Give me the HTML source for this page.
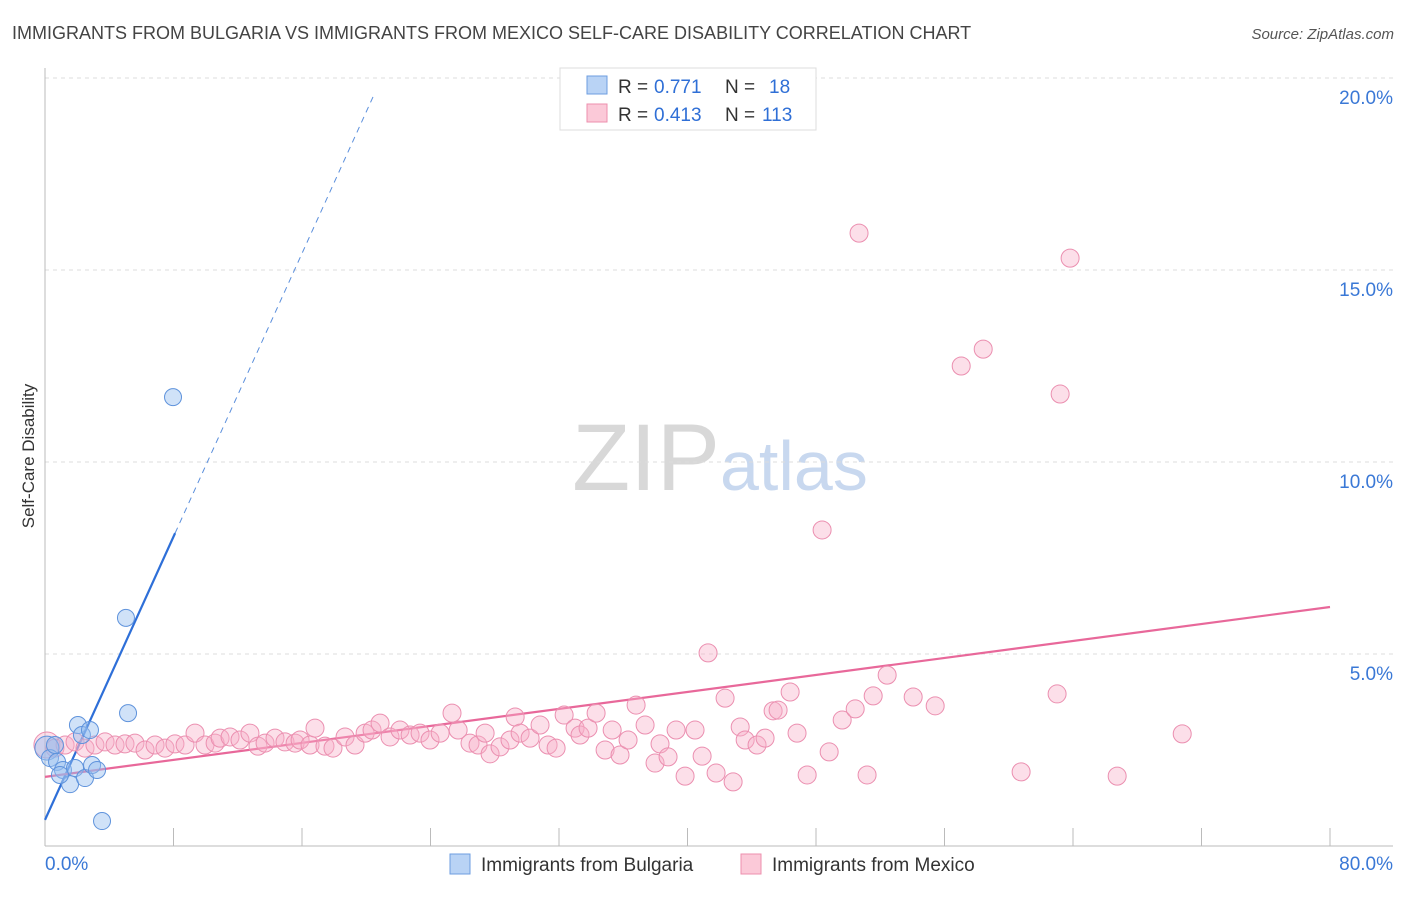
<!DOCTYPE html>
<html><head><meta charset="utf-8"><style>
body{margin:0;background:#fff;font-family:"Liberation Sans",sans-serif;}
svg text{font-family:"Liberation Sans",sans-serif;}
</style></head><body>
<svg id="chart" width="1406" height="892" viewBox="0 0 1406 892" xmlns="http://www.w3.org/2000/svg">
<text x="12" y="39" font-size="18" fill="#444">IMMIGRANTS FROM BULGARIA VS IMMIGRANTS FROM MEXICO SELF-CARE DISABILITY CORRELATION CHART</text>
<text x="1394" y="39" font-size="15" fill="#555" text-anchor="end" font-style="italic">Source: ZipAtlas.com</text>
<text x="720" y="490" font-size="95" text-anchor="middle" fill="#ddd" font-family="Liberation Serif"><tspan fill="#d8d8d8">ZIP</tspan><tspan fill="#c8d8ef" font-family="Liberation Sans" font-size="70">atlas</tspan></text>
<text transform="translate(34,456) rotate(-90)" font-size="17" fill="#333" text-anchor="middle">Self-Care Disability</text>
<g id="grid"></g><g id="axes"></g><g id="lines"></g><g id="pts"></g>
<g>
<rect x="560" y="68" width="256" height="62" fill="#fff" stroke="#ddd"/>
<rect x="587" y="76" width="20" height="18" fill="#b9d3f5" stroke="#6d9ee0"/>
<text x="618" y="93" font-size="19" fill="#333">R =</text>
<text x="654" y="93" font-size="19" fill="#2f6fd6">0.771</text>
<text x="725" y="93" font-size="19" fill="#333">N =</text>
<text x="769" y="93" font-size="19" fill="#2f6fd6">18</text>
<rect x="587" y="104" width="20" height="18" fill="#fbc9d8" stroke="#ec8fae"/>
<text x="618" y="121" font-size="19" fill="#333">R =</text>
<text x="654" y="121" font-size="19" fill="#2f6fd6">0.413</text>
<text x="725" y="121" font-size="19" fill="#333">N =</text>
<text x="762" y="121" font-size="19" fill="#2f6fd6">113</text>
</g>
<g>
<rect x="450" y="854" width="20" height="20" fill="#b9d3f5" stroke="#6d9ee0"/>
<text x="481" y="871" font-size="19" fill="#333">Immigrants from Bulgaria</text>
<rect x="741" y="854" width="20" height="20" fill="#fbc9d8" stroke="#ec8fae"/>
<text x="772" y="871" font-size="19" fill="#333">Immigrants from Mexico</text>
</g>
</svg>
<script>
const yTicks=[5,10,15,20];
const yTickLabels=["5.0%","10.0%","15.0%","20.0%"];
const xTicks=[8,16,24,32,40,48,56,64,72,80];
const xEndLabels=["0.0%","80.0%"];
const bulgariaX=[0.12,0.31,0.75,1.12,1.56,1.87,2.05,2.30,2.49,2.80,2.93,3.24,3.55,5.17,5.04,7.97,0.93,0.62];
const bulgariaY=[2.55,2.29,2.19,1.98,1.61,2.03,3.15,2.89,1.77,3.02,2.11,1.98,0.65,3.46,5.94,11.69,1.85,2.63];
const mexicoX=[0.12,0.62,1.25,1.87,2.49,3.11,3.74,4.36,4.98,5.60,6.23,6.85,7.47,8.09,8.72,9.34,9.96,10.59,10.90,11.52,12.14,12.76,13.26,13.70,14.32,14.94,15.57,15.88,16.50,16.81,17.43,17.93,18.68,19.30,19.93,20.36,20.86,21.48,22.10,22.73,23.35,23.97,24.60,25.34,25.72,26.46,26.96,27.40,27.71,28.33,28.95,29.27,29.58,30.20,30.82,31.32,31.82,32.32,33.00,33.31,33.81,34.31,34.87,35.31,35.80,36.30,36.80,37.36,37.98,38.29,38.79,39.29,39.85,40.47,40.91,41.28,41.78,42.34,42.84,43.28,43.59,44.33,44.83,45.33,45.64,46.39,46.82,47.45,48.38,48.82,49.63,50.44,50.68,51.18,51.56,52.43,54.05,55.42,57.04,58.41,60.77,63.01,63.20,63.82,66.75,70.80];
const mexicoY=[2.63,2.55,2.63,2.71,2.55,2.63,2.71,2.63,2.66,2.68,2.50,2.63,2.55,2.66,2.63,2.94,2.63,2.68,2.81,2.84,2.76,2.94,2.60,2.68,2.81,2.71,2.68,2.76,2.63,3.07,2.60,2.55,2.84,2.63,2.94,3.02,3.20,2.84,3.02,2.89,2.94,2.76,2.94,3.46,3.02,2.68,2.63,2.94,2.40,2.58,2.76,3.36,2.94,2.81,3.15,2.63,2.55,3.41,3.07,2.89,3.07,3.46,2.50,3.02,2.37,2.76,3.67,3.15,2.16,2.66,2.32,3.02,1.82,3.02,2.34,5.03,1.90,3.85,1.67,3.10,2.76,2.63,2.81,3.52,3.54,4.01,2.94,1.85,8.23,2.45,3.28,3.57,15.96,1.85,3.91,4.45,3.88,3.65,12.50,12.94,1.93,3.96,11.77,15.31,1.82,2.92];
const bulgariaTrend=[0.68,0.922];
const mexicoTrend=[1.80,0.0553];

const NS="http://www.w3.org/2000/svg";
const X0=45,X1=1330,Y0=846,YPER=38.4;
const sx=v=>X0+(v/80)*(X1-X0);
const sy=v=>Y0-v*YPER;
function mk(tag,attrs,parent){const e=document.createElementNS(NS,tag);for(const k in attrs)e.setAttribute(k,attrs[k]);document.getElementById(parent).appendChild(e);return e;}

yTicks.forEach((t,i)=>{
  const l=mk('line',{x1:X0,x2:1393,y1:sy(t),y2:sy(t),stroke:'#ddd','stroke-dasharray':'4,4'},'grid');
  
  
  const tx=mk('text',{x:1393,y:sy(t)+26,'font-size':19,fill:'#3a78d6','text-anchor':'end'},'grid');
  tx.textContent=yTickLabels[i];
  
  
});
const ya=mk('line',{x1:X0,x2:X0,y1:68,y2:Y0,stroke:'#bbb'},'axes');


const xa=mk('line',{x1:X0,x2:1393,y1:Y0,y2:Y0,stroke:'#bbb'},'axes');


xTicks.forEach(t=>{
  const l=mk('line',{x1:sx(t),x2:sx(t),y1:Y0-18,y2:Y0,stroke:'#bbb'},'axes');
  
  
});
const xl0=mk('text',{x:X0,y:870,'font-size':19,fill:'#3a78d6'},'axes');
xl0.textContent=xEndLabels[0];


const xl1=mk('text',{x:1393,y:870,'font-size':19,fill:'#3a78d6','text-anchor':'end'},'axes');
xl1.textContent=xEndLabels[1];



mexicoX.forEach((x,i)=>{
  const c=mk('circle',{cx:sx(x),cy:sy(mexicoY[i]),r:i===0?13:9,fill:'rgba(248,175,200,0.4)',stroke:'#eb8fb0','stroke-width':1},'pts');
  
  
});
bulgariaX.forEach((x,i)=>{
  const c=mk('circle',{cx:sx(x),cy:sy(bulgariaY[i]),r:i===0?12:8.5,fill:'rgba(150,190,240,0.45)',stroke:'#5f93dc','stroke-width':1},'pts');
  
  
});
const bEndSolid=8.1,bEndDash=20.55;
const bl=mk('line',{x1:sx(0),y1:sy(bulgariaTrend[0]),x2:sx(bEndSolid),y2:sy(bulgariaTrend[0]+bulgariaTrend[1]*bEndSolid),stroke:'#2e6fd8','stroke-width':2.2},'lines');


const bd=mk('line',{x1:sx(bEndSolid),y1:sy(bulgariaTrend[0]+bulgariaTrend[1]*bEndSolid),x2:sx(bEndDash),y2:sy(bulgariaTrend[0]+bulgariaTrend[1]*bEndDash),stroke:'#5b8fdc','stroke-width':1,'stroke-dasharray':'6,5'},'lines');


const ml=mk('line',{x1:sx(0),y1:sy(mexicoTrend[0]),x2:sx(80),y2:sy(mexicoTrend[0]+mexicoTrend[1]*80),stroke:'#e8689a','stroke-width':2.2},'lines');


</script>
</body></html>
